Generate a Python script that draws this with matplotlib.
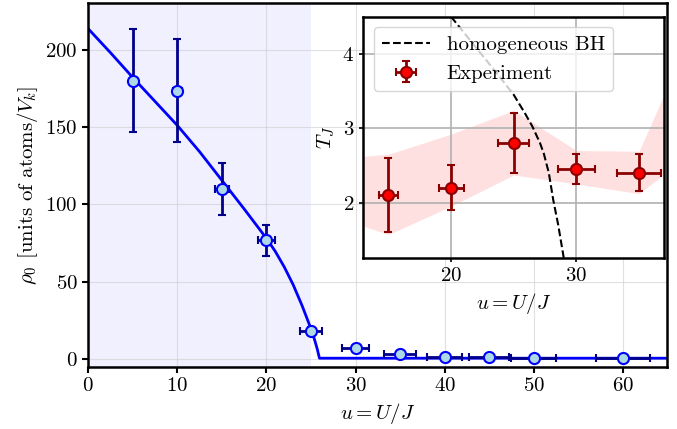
import numpy as np
import matplotlib.pyplot as plt

plt.rcParams['font.family'] = 'serif'
plt.rcParams['font.serif'] = ['cmr10', 'DejaVu Serif']
plt.rcParams['mathtext.fontset'] = 'cm'
plt.rcParams['axes.formatter.use_mathtext'] = True
plt.rcParams['axes.unicode_minus'] = False

# main panel: density data
u_exp = [5, 10, 15, 20, 25, 30, 35, 40, 45, 50, 60]
rho_exp = [180, 173.5, 110, 76.7, 18, 6.8, 3.5, 1.2, 1.0, 0.6, 0.6]
rho_err = [33.5, 33.5, 17, 10, 2.5, 2, 1.5, 1, 0.5, 0.5, 0.5]
u_err = [0.25, 0.5, 0.75, 1.0, 1.25, 1.5, 1.75, 2.0, 2.25, 2.5, 3.0]

# theory curve
u_th = [0, 2.5, 5, 7.5, 10, 12.5, 15, 17.5, 20, 21, 22, 23, 24, 24.5,
        25, 25.4, 25.7, 25.95, 65]
rho_th = [213.5, 198, 182, 166.5, 151, 134, 115.5, 97, 78, 69.5, 59.5, 48,
          34.5, 27, 19.5, 12.5, 6.5, 0.5, 0.5]

# inset: temperature
u_T = [15, 20, 25, 30, 35]
T_exp = [2.1, 2.2, 2.8, 2.45, 2.4]
T_err = [0.5, 0.3, 0.4, 0.2, 0.25]
uT_err = [0.75, 1.0, 1.25, 1.5, 1.75]

band_u = [10, 15, 20, 25, 30, 35, 40]
band_lo = [1.85, 1.57, 1.95, 2.37, 2.25, 2.12, 2.77]
band_hi = [2.58, 2.65, 2.92, 3.24, 2.70, 2.69, 4.6]

T_bh = [4.5, 4.25, 4.0, 3.75, 3.45, 3.2, 3.02, 2.8, 2.66, 2.4, 2.04, 1.7, 1.25]
u_bh = [20.0, 21.2, 22.4, 23.6, 25.0, 25.9, 26.5, 27.1, 27.4, 27.8, 28.15,
        28.55, 29.0]

fs = 15

fig = plt.figure(figsize=(6.77, 4.29), dpi=100)
ax = fig.add_axes([0.1304, 0.1452, 0.8553, 0.8471])

ax.axvspan(0, 25, color='blue', alpha=0.06, lw=0, zorder=0)
ax.plot(u_th, rho_th, color='blue', lw=2, zorder=2)
ax.errorbar(u_exp, rho_exp, yerr=rho_err, xerr=u_err, fmt='o', ms=8,
            mfc='lightblue', mec='blue', mew=1.5, ecolor='darkblue',
            elinewidth=2, capsize=3, capthick=2, zorder=3)

ax.set_xlim(0, 65)
ax.set_ylim(-5, 230)
ax.set_xticks([0, 10, 20, 30, 40, 50, 60])
ax.set_yticks([0, 50, 100, 150, 200])
ax.grid(True, color='#cccccc', alpha=0.6, lw=0.8)
ax.set_xlabel(r'$u = U/J$', fontsize=fs)
ax.set_ylabel(r'$\rho_0$ [units of atoms$/V_k$]', fontsize=fs)
ax.tick_params(labelsize=fs, width=1.5, length=4)
for s in ax.spines.values():
    s.set_linewidth(1.8)

# inset
ins = fig.add_axes([0.5367, 0.3979, 0.4442, 0.5632])
ins.fill_between(band_u, band_lo, band_hi, color='red', alpha=0.12, lw=0)
ins.plot(u_bh, T_bh, 'k--', lw=1.5, label='homogeneous BH')
ins.errorbar(u_T, T_exp, yerr=T_err, xerr=uT_err, fmt='o', ms=8,
             mfc='red', mec='darkred', mew=1.5, ecolor='darkred',
             elinewidth=2, capsize=3, capthick=2, label='Experiment')
ins.set_xlim(13, 37)
ins.set_ylim(1.25, 4.5)
ins.set_xticks([20, 30])
ins.set_yticks([2, 3, 4])
ins.grid(True, color='#b0b0b0', lw=1.2)
ins.set_xlabel(r'$u = U/J$', fontsize=fs)
ins.set_ylabel(r'$T_J$', fontsize=fs)
ins.tick_params(labelsize=fs, width=1.2, length=3)
for s in ins.spines.values():
    s.set_linewidth(1.8)
ins.legend(loc='upper left', fontsize=fs, handlelength=2.3)

plt.savefig('out.png', dpi=100)
